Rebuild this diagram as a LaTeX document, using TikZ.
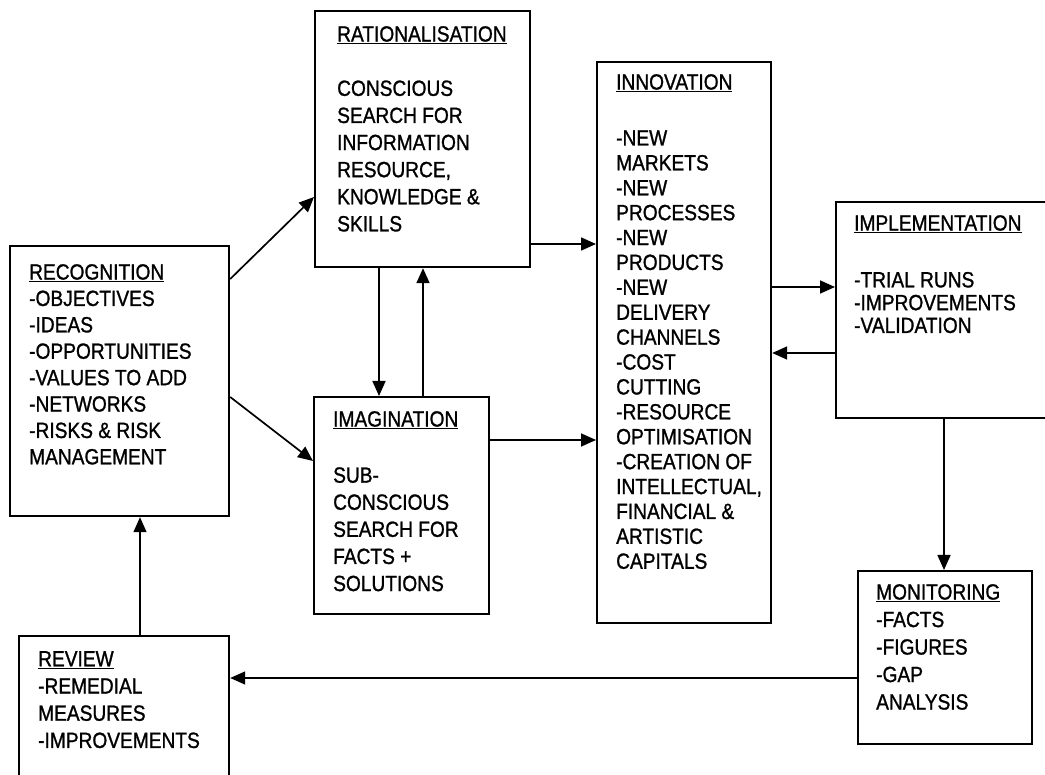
\documentclass[tikz,border=0pt]{standalone}
\usepackage{fontspec}
\setmainfont{Liberation Sans}[FakeStretch=0.87,FakeBold=1.1]
\usetikzlibrary{calc,arrows.meta}
\tikzset{
  x=1pt, y=-1pt,
  box/.style={draw, line width=2.2pt, anchor=north west, inner sep=0pt, fill=none},
  txt/.style={anchor=north west, inner sep=0pt, align=left, font=\fontsize{22pt}{#1}\selectfont},
  conn/.style={line width=1.7pt, -{Triangle[length=15pt,width=13pt]}},
  thinconn/.style={line width=1.4pt, -{Triangle[length=15pt,width=13pt]}}
}
\begin{document}
\begin{tikzpicture}
\useasboundingbox (0,0) rectangle (1045,775);
\fill[white] (0,0) rectangle (1045,775);
\clip (0,0) rectangle (1045,775);

% boxes
\node[box, minimum width=219pt, minimum height=270pt] (rec) at (9,245) {};
\node[box, minimum width=215pt, minimum height=256pt] (rat) at (314,10) {};
\node[box, minimum width=175pt, minimum height=217pt] (ima) at (313,396) {};
\node[box, minimum width=174pt, minimum height=561pt] (inn) at (596,61) {};
\node[box, minimum width=225pt, minimum height=216pt] (imp) at (835,201) {};
\node[box, minimum width=174pt, minimum height=173pt] (mon) at (857,570) {};
\node[box, minimum width=210pt, minimum height=160pt] (rev) at (18,635) {};

% texts
\node[txt=26.4pt] (rect) at (29,264) {\underline{RECOGNITION}\\-OBJECTIVES\\-IDEAS\\-OPPORTUNITIES\\-VALUES TO ADD\\-NETWORKS\\-RISKS \& RISK\\MANAGEMENT};
\node[txt=27.1pt] (ratt) at (337,26) {\underline{RATIONALISATION}\\[27.2pt]CONSCIOUS\\SEARCH FOR\\INFORMATION\\RESOURCE,\\KNOWLEDGE \&\\SKILLS};
\node[txt=27.1pt] (imat) at (333,411) {\underline{IMAGINATION}\\[29pt]SUB-\\CONSCIOUS\\SEARCH FOR\\FACTS +\\SOLUTIONS};
\node[txt=24.9pt] (innt) at (616,74) {\underline{INNOVATION}\\[31pt]-NEW\\MARKETS\\-NEW\\PROCESSES\\-NEW\\PRODUCTS\\-NEW\\DELIVERY\\CHANNELS\\-COST\\CUTTING\\-RESOURCE\\OPTIMISATION\\-CREATION OF\\INTELLECTUAL,\\FINANCIAL \&\\ARTISTIC\\CAPITALS};
\node[txt=22.8pt] (impt) at (854,215) {\underline{IMPLEMENTATION}\\[34pt]-TRIAL RUNS\\-IMPROVEMENTS\\-VALIDATION};
\node[txt=27.5pt] (mont) at (876,584) {\underline{MONITORING}\\-FACTS\\-FIGURES\\-GAP\\ANALYSIS};
\node[txt=27.2pt] (revt) at (38,651) {\underline{REVIEW}\\-REMEDIAL\\MEASURES\\-IMPROVEMENTS};

% connectors
\draw[conn] ($(rec.north east)+(0,34)$) -- ($(rat.north west)+(0,187)$);
\draw[conn] ($(rec.north east)+(0,152)$) -- ($(ima.north west)+(0,65)$);
\draw[conn] ($(rat.south west)+(65,0)$) -- ($(ima.north west)+(66,0)$);
\draw[conn] ($(ima.north west)+(110,0)$) -- ($(rat.south west)+(109,0)$);
\draw[conn] ($(rat.north east)+(0,234)$) -- ($(inn.north west)+(0,183)$);
\draw[conn] ($(ima.north east)+(0,44)$) -- ($(inn.north west)+(0,379)$);
\draw[conn] ($(inn.north east)+(0,226)$) -- ($(imp.north west)+(0,86)$);
\draw[conn] ($(imp.north west)+(0,152)$) -- ($(inn.north east)+(0,292)$);
\draw[conn] ($(imp.south west)+(109,0)$) -- ($(mon.north west)+(87,0)$);
\draw[thinconn] ($(mon.north west)+(0,108)$) -- ($(rev.north east)+(0,43)$);
\draw[thinconn] ($(rev.north west)+(122,0)$) -- ($(rec.south west)+(131,0)$);
\end{tikzpicture}
\end{document}
